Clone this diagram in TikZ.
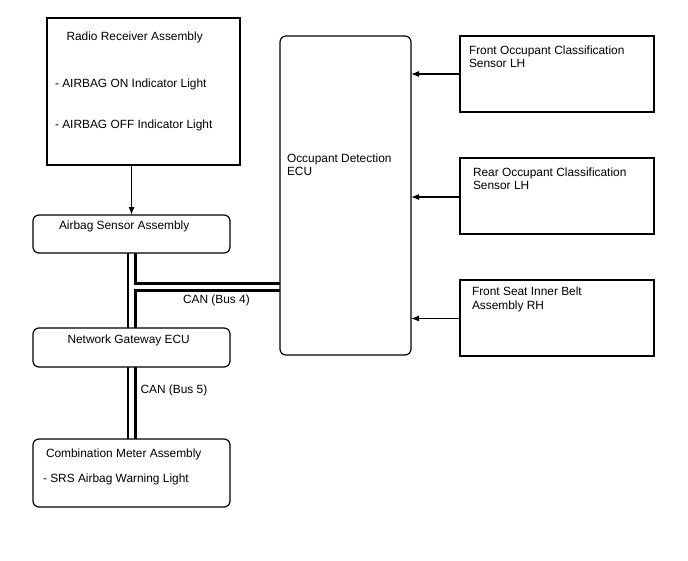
\documentclass[tikz,border=0pt]{standalone}
\usepackage{fontspec}
\setmainfont{Liberation Sans}
\usetikzlibrary{arrows.meta}
\pgfdeclarelayer{bg}
\pgfsetlayers{bg,main}
\begin{document}
\begin{tikzpicture}[x=1pt,y=-1pt,
  every node/.style={inner sep=0pt,outer sep=0pt},
  sqbox/.style={draw,line width=1.2pt,fill=white,anchor=north west},
  rbox/.style={sqbox,rounded corners=6pt},
  txt/.style={anchor=west,align=left,font=\fontsize{11.9}{13.4}\selectfont},
  arr/.style={line width=1.1pt,-{Latex[length=8pt,width=6pt]}},
  busblack/.style={line width=10pt,black},
  buswhite/.style={line width=4.4pt,white}]
\useasboundingbox (0,0) rectangle (688,560);
% boxes
\node[sqbox,minimum width=193,minimum height=147] (radio) at (47,18) {};
\node[rbox,minimum width=197,minimum height=38] (airbag) at (33,215) {};
\node[rbox,minimum width=197,minimum height=39] (gateway) at (33,328) {};
\node[rbox,minimum width=197,minimum height=68] (combo) at (33,439) {};
\node[rbox,minimum width=131,minimum height=319] (ecu) at (280,36) {};
\node[sqbox,minimum width=194,minimum height=76] (fro) at (460,36) {};
\node[sqbox,minimum width=194,minimum height=76] (rea) at (460,158) {};
\node[sqbox,minimum width=194,minimum height=76] (fsb) at (460,280) {};
% texts
\node[txt] (t1) at (66.5,37) {Radio Receiver Assembly};
\node[txt] (t2) at (55,84) {- AIRBAG ON Indicator Light};
\node[txt] (t3) at (55,125) {- AIRBAG OFF Indicator Light};
\node[txt] (t4) at (59,226.5) {Airbag Sensor Assembly};
\node[txt] (t5) at (67.5,340) {Network Gateway ECU};
\node[txt] (t6) at (46,454.5) {Combination Meter Assembly};
\node[txt] (t7) at (43,479.5) {- SRS Airbag Warning Light};
\node[txt] (t8) at (287,165) {Occupant Detection\\ECU};
\node[txt] (t9) at (469,57) {Front Occupant Classification\\Sensor LH};
\node[txt] (t10) at (473,178.5) {Rear Occupant Classification\\Sensor LH};
\node[txt] (t11) at (472,299.5) {Front Seat Inner Belt\\Assembly RH};
\node[txt] (c4) at (183,300) {CAN (Bus 4)};
\node[txt] (c5) at (140.5,390.5) {CAN (Bus 5)};
% connectors
\coordinate (busx) at (131.5,0);
\coordinate (junc) at (131.5,287);
\coordinate (y1) at (0,74);
\coordinate (y2) at (0,197);
\coordinate (y3) at (0,318.5);
\draw[arr] (radio.south -| busx) -- (airbag.north -| busx);
\draw[arr] (fro.west |- y1) -- (ecu.east |- y1);
\draw[arr] (rea.west |- y2) -- (ecu.east |- y2);
\draw[arr] (fsb.west |- y3) -- (ecu.east |- y3);
\begin{pgfonlayer}{bg}
\fill[white] (0,0) rectangle (688,560);
\draw[busblack] (airbag.south -| busx) -- (gateway.north -| busx);
\draw[busblack] (junc) -- (junc -| ecu.west);
\draw[busblack] (gateway.south -| busx) -- (combo.north -| busx);
\draw[buswhite] (airbag.south -| busx) -- (gateway.north -| busx);
\draw[buswhite] (junc) -- (junc -| ecu.west);
\draw[buswhite] (gateway.south -| busx) -- (combo.north -| busx);
\end{pgfonlayer}
\end{tikzpicture}
\end{document}
